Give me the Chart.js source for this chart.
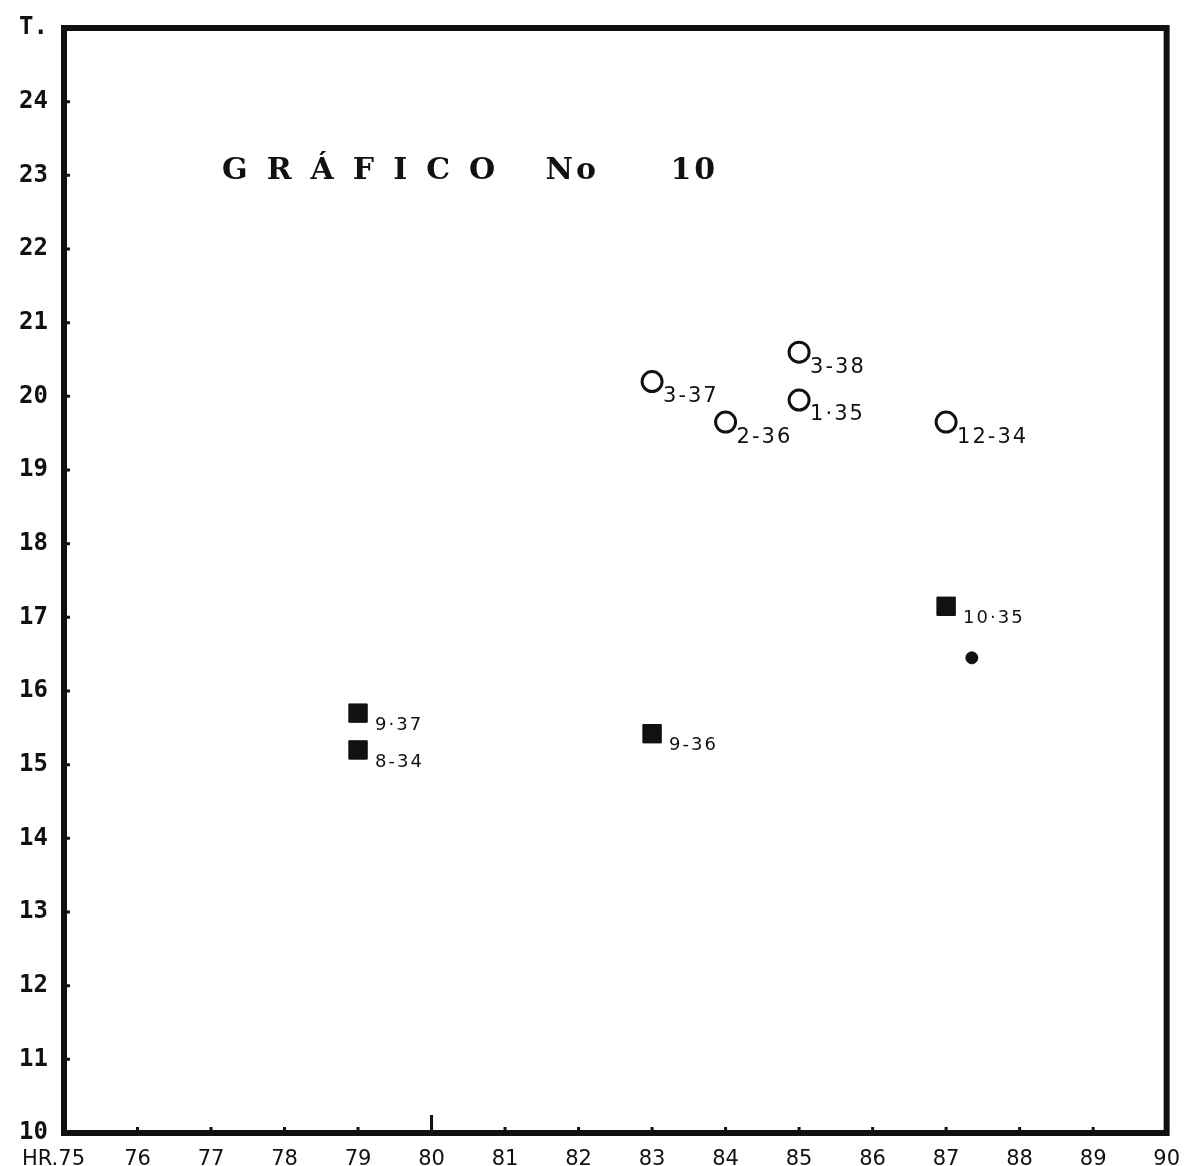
<!DOCTYPE html>
<html>
<head>
<meta charset="utf-8">
<script src="https://cdn.jsdelivr.net/npm/chart.js@4.4.0/dist/chart.umd.min.js"></script>
<style>
	body { margin: 0; background: white; }
	#wrap { width: 1186px; height: 1166px; }
</style>
</head>
<body>
<div id="wrap"><canvas id="myChart"></canvas></div>
<script>
// values
const xTicks = [75, 76, 77, 78, 79, 80, 81, 82, 83, 84, 85, 86, 87, 88, 89, 90]
const yTicks = [10, 11, 12, 13, 14, 15, 16, 17, 18, 19, 20, 21, 22, 23, 24, 25]
const xTickLabels = ['HR.75\u2003', '76', '77', '78', '79', '80', '81', '82', '83', '84', '85', '86', '87', '88', '89', '90']
const yTickLabels = ['10', '11', '12', '13', '14', '15', '16', '17', '18', '19', '20', '21', '22', '23', '24', 'T.']

const circleX = [83, 84, 85, 85, 87]
const circleY = [20.2, 19.65, 20.6, 19.95, 19.65]
const circleLabels = ['3-37', '2-36', '3-38', '1·35', '12-34']

const squareX = [79, 79, 83, 87]
const squareY = [15.7, 15.2, 15.42, 17.15]
const squareLabels = ['9·37', '8-34', '9-36', '10·35']

const dotX = [87.35]
const dotY = [16.45]

// title pieces, placed on the data grid
const titleParts = ['GRÁFICO', 'No', '10']
const titlePartX = [77.15, 81.55, 83.25]
const titleY = 23.05

const ink = '#111'

const toPoints = (xs, ys) => xs.map((x, i) => ({ x: x, y: ys[i] }))

/* frame, small tick marks, title, point labels */
const paperPlugin = {
	id: 'paper',
	afterDatasetsDraw(chart) {
		const { ctx, chartArea, scales } = chart
		ctx.save()
		ctx.strokeStyle = ink
		ctx.lineWidth = 6
		ctx.strokeRect(chartArea.left, chartArea.top, chartArea.right - chartArea.left, chartArea.bottom - chartArea.top)

		ctx.lineWidth = 3
		ctx.beginPath()
		for (const v of yTicks) {
			const py = scales.y.getPixelForValue(v)
			ctx.moveTo(chartArea.left, py)
			ctx.lineTo(chartArea.left + 6, py)
		}
		for (const v of xTicks) {
			const px = scales.x.getPixelForValue(v)
			ctx.moveTo(px, chartArea.bottom)
			ctx.lineTo(px, chartArea.bottom - (v == 80 ? 18 : 6))
		}
		ctx.stroke()

		ctx.fillStyle = ink
		ctx.textBaseline = 'middle'
		ctx.textAlign = 'left'
		ctx.font = 'bold 30px "DejaVu Serif"'
		titleParts.forEach((t, i) => {
			ctx.letterSpacing = i == 0 ? '19px' : '3px'
			ctx.fillText(t, scales.x.getPixelForValue(titlePartX[i]), scales.y.getPixelForValue(titleY))
		})

		chart.data.datasets.forEach((ds, i) => {
			if (!ds.pointLabels) return
			const meta = chart.getDatasetMeta(i)
			ctx.font = ds.labelFont
			ctx.letterSpacing = ds.labelSpacing
			meta.data.forEach((el, j) => {
				ctx.fillText(ds.pointLabels[j], el.x + ds.labelDx, el.y + ds.labelDy)
			})
		})
		ctx.restore()
	}
}

const ctx = document.getElementById('myChart').getContext('2d')
const chart = new Chart(ctx, {
	type: 'scatter',
	data: {
		datasets: [{
			label: 'circles',
			data: toPoints(circleX, circleY),
			pointStyle: 'circle',
			pointRadius: 10,
			borderWidth: 3,
			borderColor: ink,
			backgroundColor: 'white',
			pointLabels: circleLabels,
			labelFont: '21px "DejaVu Sans"',
			labelSpacing: '2px',
			labelDx: 11,
			labelDy: 15
		}, {
			label: 'squares',
			data: toPoints(squareX, squareY),
			pointStyle: 'rect',
			pointRadius: 13,
			borderWidth: 1,
			borderColor: ink,
			backgroundColor: ink,
			pointLabels: squareLabels,
			labelFont: '18px "DejaVu Sans"',
			labelSpacing: '2px',
			labelDx: 17,
			labelDy: 12
		}, {
			label: 'dot',
			data: toPoints(dotX, dotY),
			pointStyle: 'circle',
			pointRadius: 6,
			borderColor: ink,
			backgroundColor: ink
		}]
	},
	options: {
		maintainAspectRatio: false,
		responsive: true,
		animation: false,
		layout: {
			padding: { top: 28, right: 18, left: 0, bottom: 0 }
		},
		scales: {
			x: {
				type: 'linear',
				min: 75,
				max: 90,
				afterBuildTicks: scale => { scale.ticks = xTicks.map(v => ({ value: v })) },
				afterFit: scale => { scale.height = 33 },
				grid: { display: false },
				border: { display: false },
				ticks: {
					color: ink,
					padding: 6,
					maxRotation: 0,
					autoSkip: false,
					font: { family: 'DejaVu Sans', size: 21 },
					callback: v => xTickLabels[xTicks.indexOf(v)]
				}
			},
			y: {
				type: 'linear',
				min: 10,
				max: 25,
				afterBuildTicks: scale => { scale.ticks = yTicks.map(v => ({ value: v })) },
				afterFit: scale => { scale.width = 64 },
				grid: { display: false },
				border: { display: false },
				ticks: {
					color: ink,
					padding: 8,
					autoSkip: false,
					font: { family: 'DejaVu Sans Mono', size: 24, weight: 'bold' },
					callback: v => yTickLabels[yTicks.indexOf(v)]
				}
			}
		},
		plugins: {
			legend: { display: false },
			tooltip: { enabled: false }
		}
	},
	plugins: [paperPlugin]
})
</script>
</body>
</html>
